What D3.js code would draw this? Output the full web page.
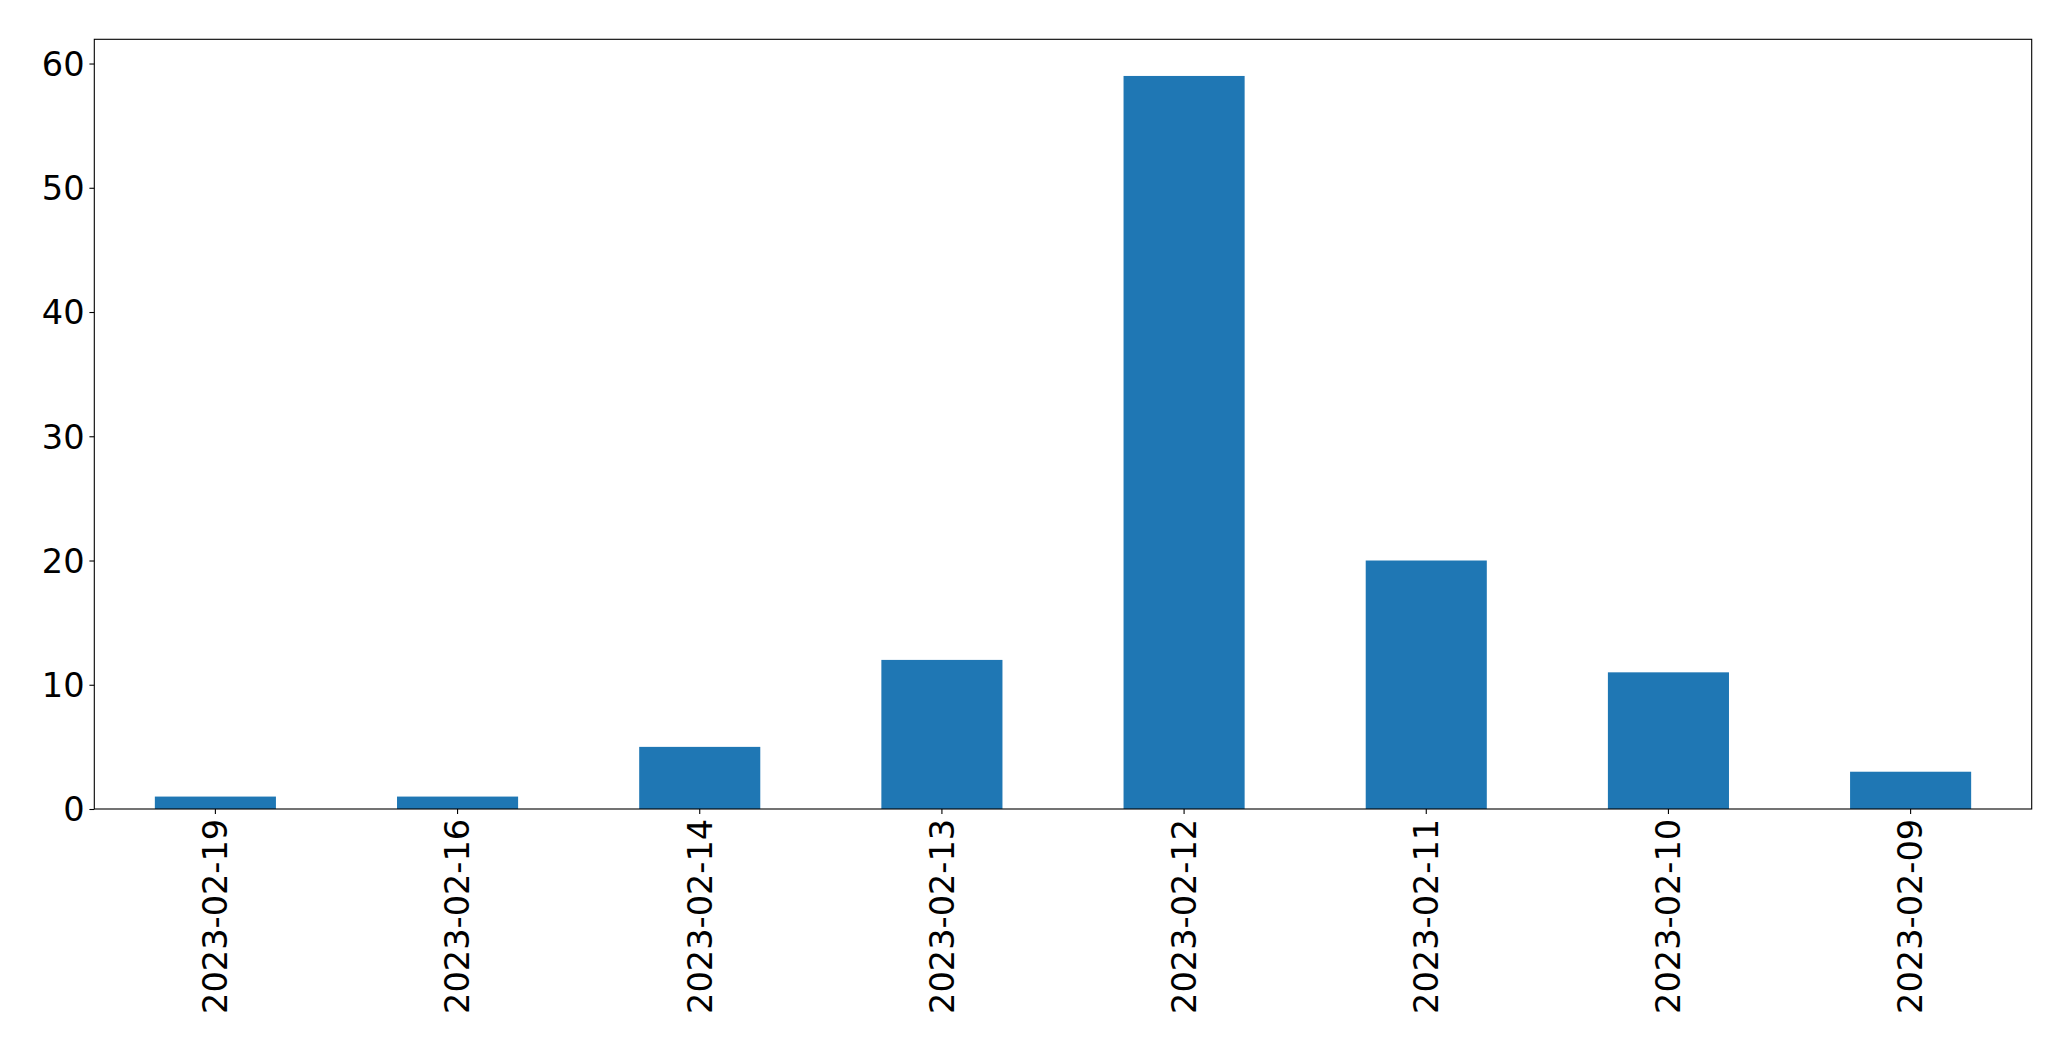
<!DOCTYPE html>
<html>
<head>
<meta charset="utf-8">
<script src="https://cdn.jsdelivr.net/npm/d3@7"></script>
<style>
  html, body { margin: 0; padding: 0; background: #fff; }
  svg { display: block; }
  text { font-family: "DejaVu Sans", sans-serif; fill: #000; }
</style>
</head>
<body>
<svg id="chart" width="2071" height="1061"></svg>
<script>
const categories = ["2023-02-19", "2023-02-16", "2023-02-14", "2023-02-13", "2023-02-12", "2023-02-11", "2023-02-10", "2023-02-09"];
const values = [1, 1, 5, 12, 59, 20, 11, 3];
const yTicks = [0, 10, 20, 30, 40, 50, 60];

const W = 2071, H = 1061;
const margin = { left: 94.3, right: W - 2031.7, top: 39.3, bottom: H - 809 };
const fontSize = 33.6;
const tickLen = 4.9, tickPad = 4.9;
const color = "#1f77b4";

const svg = d3.select("#chart");
const iw = W - margin.left - margin.right;
const ih = H - margin.top - margin.bottom;
const g = svg.append("g").attr("transform", `translate(${margin.left},${margin.top})`);

const x = d3.scaleBand().domain(categories).range([0, iw]).paddingInner(0.5).paddingOuter(0.25);
const yMax = d3.max(values) * 1.05;
const y = d3.scaleLinear().domain([0, yMax]).range([ih, 0]);

g.selectAll("rect.bar").data(values).enter().append("rect")
  .attr("class", "bar")
  .attr("x", (d, i) => x(categories[i]))
  .attr("width", x.bandwidth())
  .attr("y", d => y(d))
  .attr("height", d => y(0) - y(d))
  .attr("fill", color);

// y axis
const yAxis = d3.axisLeft(y).tickValues(yTicks).tickSize(tickLen).tickPadding(tickPad).tickFormat(d3.format("d"));
const ya = g.append("g").call(yAxis);
ya.select(".domain").remove();
ya.selectAll("line").attr("stroke", "#000").attr("stroke-width", 1.1);
ya.selectAll("text").style("font-size", fontSize + "px").attr("dy", "0.35em");

// x axis
const xAxis = d3.axisBottom(x).tickSize(tickLen).tickPadding(tickPad);
const xa = g.append("g").attr("transform", `translate(0,${ih})`).call(xAxis);
xa.select(".domain").remove();
xa.selectAll("line").attr("stroke", "#000").attr("stroke-width", 1.1);
xa.selectAll("text")
  .style("font-size", fontSize + "px")
  .attr("transform", "rotate(-90)")
  .attr("x", -(tickLen + tickPad))
  .attr("y", 0)
  .attr("dy", "0.35em")
  .attr("text-anchor", "end");

// frame
g.append("rect").attr("x", 0).attr("y", 0).attr("width", iw).attr("height", ih)
  .attr("fill", "none").attr("stroke", "#000").attr("stroke-width", 1.1);
</script>
</body>
</html>
